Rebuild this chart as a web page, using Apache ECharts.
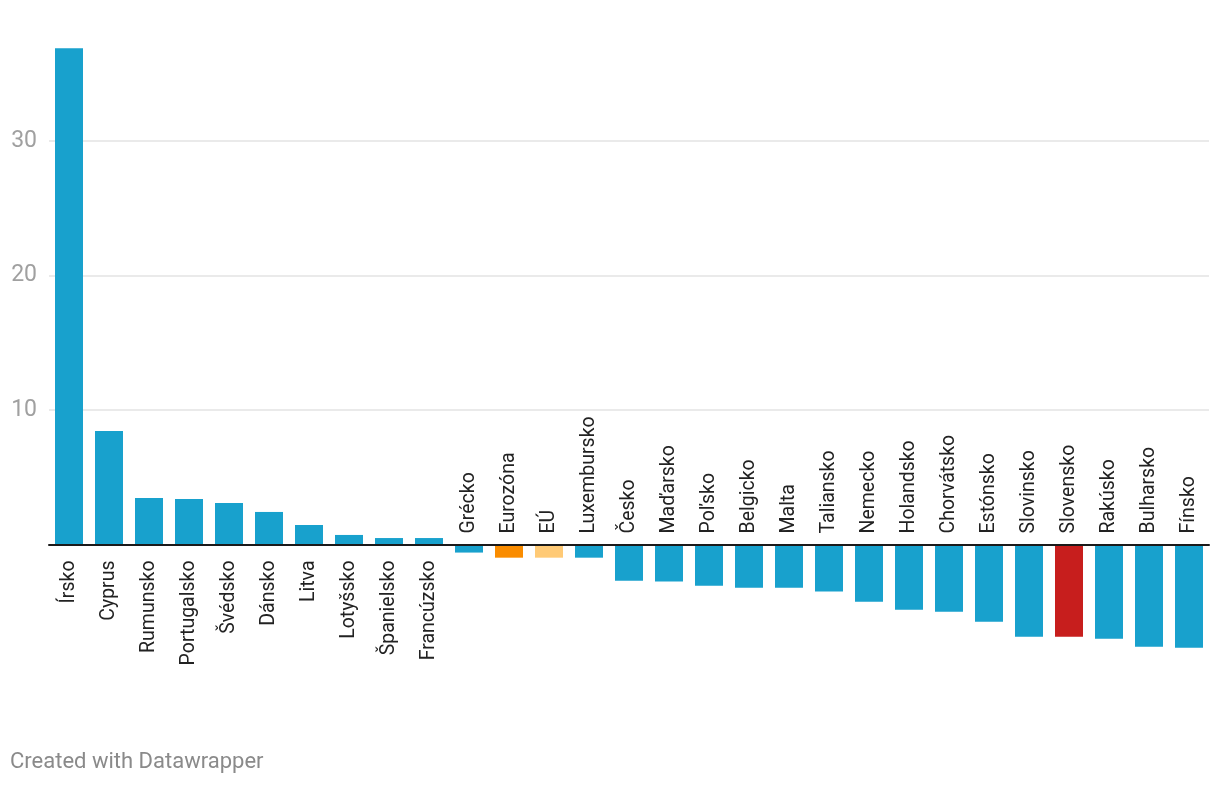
<!DOCTYPE html>
<html>
<head>
<meta charset="utf-8">
<script src="https://cdn.jsdelivr.net/npm/echarts@6/dist/echarts.min.js"></script>
<style>
html,body{margin:0;padding:0;background:#fff;}
#chart{width:1220px;height:786px;}
</style>
</head>
<body>
<div id="chart"></div>
<script>
const categories = ["Írsko","Cyprus","Rumunsko","Portugalsko","Švédsko","Dánsko","Litva","Lotyšsko","Španielsko","Francúzsko","Grécko","Eurozóna","EÚ","Luxembursko","Česko","Maďarsko","Poľsko","Belgicko","Malta","Taliansko","Nemecko","Holandsko","Chorvátsko","Estónsko","Slovinsko","Slovensko","Rakúsko","Bulharsko","Fínsko"];
const values = [36.9,8.44,3.46,3.38,3.09,2.42,1.45,0.71,0.48,0.48,-0.6,-0.98,-0.98,-0.98,-2.69,-2.76,-3.06,-3.21,-3.21,-3.5,-4.25,-4.85,-5.0,-5.74,-6.85,-6.85,-7.0,-7.6,-7.67];
const highlight = {"Eurozóna":"#fa8c00","EÚ":"#ffca76","Slovensko":"#c71e1d"};
const yTicks = [10,20,30];
const baseColor = "#18a1cd";

const chart = echarts.init(document.getElementById('chart'));
const labelFont = {fontFamily:'Roboto', fontSize:19.5, color:'#222', opacity:1};
chart.setOption({
  animation:false,
  grid:{left:49,right:11,top:6.5,height:672.5,containLabel:false,outerBoundsMode:'none'},
  xAxis:{
    type:'category', data:categories, z:10,
    axisLine:{onZero:true,lineStyle:{color:'#1a1a1a',width:2}},
    axisTick:{show:false},
    axisLabel:{show:false},
    splitLine:{show:false}
  },
  yAxis:{
    type:'value', min:-10, max:40, interval:10,
    axisLine:{show:false}, axisTick:{show:false},
    axisLabel:{margin:12,fontFamily:'Roboto',fontSize:23,color:'#a0a0a0',
      formatter:v=> yTicks.indexOf(v) >= 0 ? String(v) : ''},
    splitLine:{show:true,showMinLine:false,showMaxLine:false,lineStyle:{color:'#e3e3e3',width:1.5}}
  },
  series:[{
    type:'bar', barCategoryGap:'30%',
    data: values.map((v,i)=>({value:v,itemStyle:{color:highlight[categories[i]]||baseColor}})),
    label:{show:false}
  },{
    type:'scatter', symbol:'rect', symbolSize:2, itemStyle:{color:'rgba(0,0,0,0)'}, silent:true, z:5,
    data: values.map((v,i)=>({
      value:[i,0],
      label: v >= 0
        ? {show:true,position:'bottom',distance:15,rotate:90,align:'right',verticalAlign:'middle'}
        : {show:true,position:'top',distance:10,rotate:90,align:'left',verticalAlign:'middle'}
    })),
    label:Object.assign({show:true,formatter:p=>categories[p.dataIndex]},labelFont)
  }],
  graphic:[{
    type:'text', left:10, top:751,
    style:{text:'Created with Datawrapper',fontFamily:'Roboto',fontSize:22,fill:'#8a8a8a'}
  }]
});
</script>
</body>
</html>
